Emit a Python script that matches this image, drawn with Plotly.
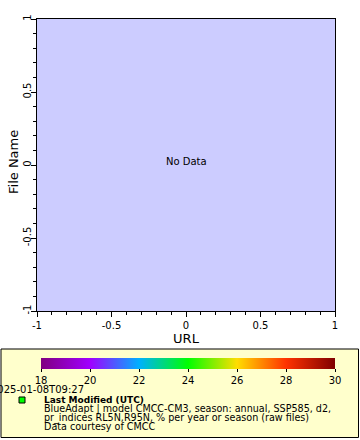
import plotly.graph_objects as go

# ---- data ----
cbar_min = 18
cbar_max = 30
cbar_ticks = [18, 20, 22, 24, 26, 28, 30]
axis_ticks = [-1, -0.5, 0, 0.5, 1]
axis_labels = ["-1", "-0.5", "0", "0.5", "1"]
timestamp = "2025-01-08T09:27"
legend_title = "Last Modified (UTC)"
legend_lines = [
    "BlueAdapt | model CMCC-CM3, season: annual, SSP585, d2,",
    "pr_indices RL5N,R95N, % per year or season (raw files)",
    "Data courtesy of CMCC",
]
colorscale = [
    [0.0, "#800080"], [1/6, "#a000ff"], [2/6, "#00b0ff"], [3/6, "#00ff00"],
    [4/6, "#ffdd00"], [5/6, "#ff3300"], [1.0, "#800000"],
]

W, H = 360, 440
L, R, T, B = 37, 335, 19, 311
FONT = "DejaVu Sans"

def px(x):
    return (x - L) / (R - L)

def py(y):
    return (B - y) / (B - T)

fig = go.Figure()
fig.add_trace(go.Scatter(
    x=[None], y=[None], mode="markers", showlegend=False, hoverinfo="skip",
    marker=dict(color=[cbar_min], cmin=cbar_min, cmax=cbar_max, colorscale=colorscale,
                showscale=True,
                colorbar=dict(orientation="h", lenmode="pixels", len=294,
                              thickness=11, thicknessmode="pixels",
                              x=px(188), xanchor="center", y=py(357.5), yanchor="top",
                              outlinewidth=0, tickvals=cbar_ticks, ticks="outside",
                              ticklen=3, tickcolor="black", xpad=0, ypad=0,
                              tickfont=dict(family=FONT, size=10, color="black"))),
))

axis_common = dict(range=[-1, 1], tickvals=axis_ticks, ticktext=axis_labels,
                   ticks="outside", ticklen=5, tickcolor="black", showline=True,
                   linecolor="black", linewidth=1, mirror=True, showgrid=False,
                   zeroline=False, tickfont=dict(family=FONT, size=10, color="black"),
                   minor=dict(dtick=0.1, ticks="outside", ticklen=3, tickcolor="black",
                              showgrid=False))
fig.update_xaxes(**axis_common, title=dict(text="URL", font=dict(family=FONT, size=13, color="black"), standoff=3))
fig.update_yaxes(**axis_common, tickangle=-90, ticklabelstandoff=-4)

shapes = [
    dict(type="rect", xref="paper", yref="paper", x0=px(1), x1=px(358.5), y0=py(349), y1=py(437.5),
         fillcolor="#ffffcc", line=dict(color="black", width=1), layer="below"),
    dict(type="rect", xref="paper", yref="paper", x0=px(19), x1=px(25), y0=py(397), y1=py(403),
         fillcolor="#00ff00", line=dict(color="black", width=1)),
]
annotations = [
    dict(text="File Name", x=px(13), y=py(162), xref="paper", yref="paper", showarrow=False,
         textangle=-90, xanchor="center", yanchor="middle",
         font=dict(family=FONT, size=13, color="black")),
    dict(text="No Data", x=0, y=0, xref="x", yref="y", showarrow=False,
         font=dict(family=FONT, size=10, color="black"), yshift=4),
    dict(text=timestamp, x=px(86), y=py(389), xref="paper", yref="paper", showarrow=False,
         xanchor="right", yanchor="middle", font=dict(family=FONT, size=10, color="black")),
    dict(text="<b>" + legend_title + "</b>", x=px(41.5), y=py(400), xref="paper", yref="paper",
         showarrow=False, xanchor="left", yanchor="middle",
         font=dict(family=FONT, size=9, color="black")),
]
for i, line in enumerate(legend_lines):
    annotations.append(dict(text=line, x=px(41.5), y=py(409.3 + i * 8.7), xref="paper", yref="paper",
                            showarrow=False, xanchor="left", yanchor="middle",
                            font=dict(family=FONT, size=9.6, color="black")))

fig.update_layout(
    width=W, height=H,
    margin=dict(l=L, r=W - R, t=T, b=H - B, pad=0, autoexpand=False),
    plot_bgcolor="#ccccff", paper_bgcolor="white", showlegend=False,
    shapes=shapes, annotations=annotations,
)
fig.write_html("out.html")
